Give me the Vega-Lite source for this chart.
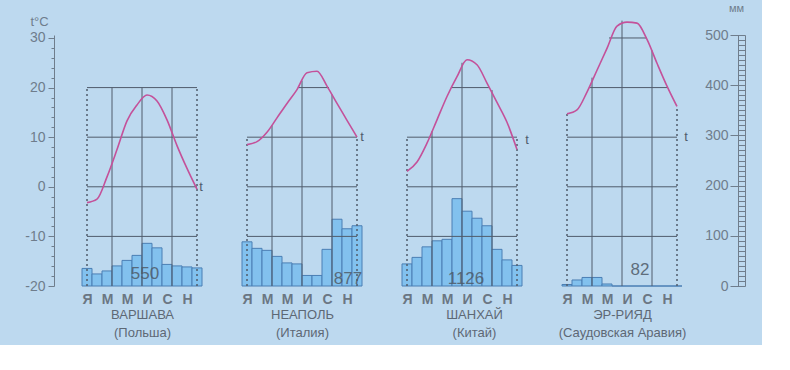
{
  "$schema": "https://vega.github.io/schema/vega-lite/v6.json",
  "background": "#bdd9ef",
  "padding": {"left": 24, "top": 2, "right": 16, "bottom": 6},
  "config": {
    "view": {"stroke": null},
    "font": "Liberation Sans",
    "axis": {"grid": false, "labelFlush": false, "labelOverlap": false}
  },
  "datasets": {
    "climate": [
      {"city": "Варшава", "m": 1, "t": -3.2, "p": 35},
      {"city": "Варшава", "m": 2, "t": -2.5, "p": 24},
      {"city": "Варшава", "m": 3, "t": 2, "p": 30},
      {"city": "Варшава", "m": 4, "t": 7.5, "p": 40},
      {"city": "Варшава", "m": 5, "t": 13.3, "p": 51},
      {"city": "Варшава", "m": 6, "t": 16.5, "p": 61},
      {"city": "Варшава", "m": 7, "t": 18.5, "p": 85},
      {"city": "Варшава", "m": 8, "t": 17.3, "p": 76},
      {"city": "Варшава", "m": 9, "t": 13.5, "p": 43},
      {"city": "Варшава", "m": 10, "t": 8.3, "p": 40},
      {"city": "Варшава", "m": 11, "t": 3.7, "p": 38},
      {"city": "Варшава", "m": 12, "t": -0.5, "p": 36},
      {"city": "Неаполь", "m": 1, "t": 8.5, "p": 88},
      {"city": "Неаполь", "m": 2, "t": 9.1, "p": 75},
      {"city": "Неаполь", "m": 3, "t": 11, "p": 71},
      {"city": "Неаполь", "m": 4, "t": 13.9, "p": 59},
      {"city": "Неаполь", "m": 5, "t": 16.8, "p": 46},
      {"city": "Неаполь", "m": 6, "t": 19.6, "p": 44},
      {"city": "Неаполь", "m": 7, "t": 23, "p": 21},
      {"city": "Неаполь", "m": 8, "t": 23.3, "p": 21},
      {"city": "Неаполь", "m": 9, "t": 20.3, "p": 73},
      {"city": "Неаполь", "m": 10, "t": 16.8, "p": 133},
      {"city": "Неаполь", "m": 11, "t": 13.4, "p": 114},
      {"city": "Неаполь", "m": 12, "t": 10, "p": 120},
      {"city": "Шанхай", "m": 1, "t": 3.1, "p": 44},
      {"city": "Шанхай", "m": 2, "t": 5, "p": 57},
      {"city": "Шанхай", "m": 3, "t": 8.8, "p": 78},
      {"city": "Шанхай", "m": 4, "t": 13.5, "p": 90},
      {"city": "Шанхай", "m": 5, "t": 18.2, "p": 93},
      {"city": "Шанхай", "m": 6, "t": 22.2, "p": 174},
      {"city": "Шанхай", "m": 7, "t": 25.6, "p": 149},
      {"city": "Шанхай", "m": 8, "t": 24.6, "p": 135},
      {"city": "Шанхай", "m": 9, "t": 20.9, "p": 120},
      {"city": "Шанхай", "m": 10, "t": 17, "p": 73},
      {"city": "Шанхай", "m": 11, "t": 13, "p": 52},
      {"city": "Шанхай", "m": 12, "t": 7.5, "p": 41},
      {"city": "Эр-Рияд", "m": 1, "t": 14.7, "p": 3},
      {"city": "Эр-Рияд", "m": 2, "t": 15.5, "p": 12},
      {"city": "Эр-Рияд", "m": 3, "t": 19.1, "p": 17},
      {"city": "Эр-Рияд", "m": 4, "t": 23.5, "p": 17},
      {"city": "Эр-Рияд", "m": 5, "t": 27.9, "p": 4},
      {"city": "Эр-Рияд", "m": 6, "t": 32.4, "p": 0},
      {"city": "Эр-Рияд", "m": 7, "t": 33.2, "p": 0},
      {"city": "Эр-Рияд", "m": 8, "t": 33, "p": 0},
      {"city": "Эр-Рияд", "m": 9, "t": 29.7, "p": 0},
      {"city": "Эр-Рияд", "m": 10, "t": 24.9, "p": 0},
      {"city": "Эр-Рияд", "m": 11, "t": 20.3, "p": 0},
      {"city": "Эр-Рияд", "m": 12, "t": 16.2, "p": 0}
    ],
    "hgrid": [
      {"city": "Варшава", "t": 20, "m1": 1, "m2": 12},
      {"city": "Варшава", "t": 10, "m1": 1, "m2": 12},
      {"city": "Варшава", "t": 0, "m1": 1, "m2": 12},
      {"city": "Варшава", "t": -10, "m1": 1, "m2": 12},
      {"city": "Неаполь", "t": 20, "m1": 6.1, "m2": 9.2},
      {"city": "Неаполь", "t": 10, "m1": 1, "m2": 12},
      {"city": "Неаполь", "t": 0, "m1": 1, "m2": 12},
      {"city": "Неаполь", "t": -10, "m1": 1, "m2": 12},
      {"city": "Шанхай", "t": 20, "m1": 5.4, "m2": 9.3},
      {"city": "Шанхай", "t": 10, "m1": 1, "m2": 12},
      {"city": "Шанхай", "t": 0, "m1": 1, "m2": 12},
      {"city": "Шанхай", "t": -10, "m1": 1, "m2": 12},
      {"city": "Эр-Рияд", "t": 30, "m1": 5.2, "m2": 9.0},
      {"city": "Эр-Рияд", "t": 20, "m1": 3.2, "m2": 11.0},
      {"city": "Эр-Рияд", "t": 10, "m1": 1, "m2": 12},
      {"city": "Эр-Рияд", "t": 0, "m1": 1, "m2": 12},
      {"city": "Эр-Рияд", "t": -10, "m1": 1, "m2": 12}
    ],
    "vgrid": [
      {"city": "Варшава", "m": 3.5, "t1": -20, "t2": 20},
      {"city": "Варшава", "m": 6.5, "t1": -20, "t2": 20},
      {"city": "Варшава", "m": 9.5, "t1": -20, "t2": 20},
      {"city": "Неаполь", "m": 3.5, "t1": -20, "t2": 12.4},
      {"city": "Неаполь", "m": 6.5, "t1": -20, "t2": 21.4},
      {"city": "Неаполь", "m": 9.5, "t1": -20, "t2": 18.6},
      {"city": "Шанхай", "m": 3.5, "t1": -20, "t2": 11.2},
      {"city": "Шанхай", "m": 6.5, "t1": -20, "t2": 25},
      {"city": "Шанхай", "m": 9.5, "t1": -20, "t2": 19.5},
      {"city": "Эр-Рияд", "m": 3.5, "t1": -20, "t2": 22},
      {"city": "Эр-Рияд", "m": 6.5, "t1": -20, "t2": 33.5},
      {"city": "Эр-Рияд", "m": 9.5, "t1": -20, "t2": 27.5}
    ],
    "edges": [
      {"city": "Варшава", "m": 1, "t1": -20, "t2": 20},
      {"city": "Варшава", "m": 12, "t1": -20, "t2": 20},
      {"city": "Неаполь", "m": 1, "t1": -20, "t2": 10},
      {"city": "Неаполь", "m": 12, "t1": -20, "t2": 10},
      {"city": "Шанхай", "m": 1, "t1": -20, "t2": 10},
      {"city": "Шанхай", "m": 12, "t1": -20, "t2": 10},
      {"city": "Эр-Рияд", "m": 1, "t1": -20, "t2": 14.7},
      {"city": "Эр-Рияд", "m": 12, "t1": -20, "t2": 16.2}
    ],
    "notes": [
      {"city": "Варшава", "kind": "t", "m": 12.4, "t": 0, "label": "t"},
      {"city": "Неаполь", "kind": "t", "m": 12.5, "t": 10, "label": "t"},
      {"city": "Шанхай", "kind": "t", "m": 13.0, "t": 9.5, "label": "t"},
      {"city": "Эр-Рияд", "kind": "t", "m": 12.9, "t": 10, "label": "t"},
      {"city": "Варшава", "kind": "total", "m": 6.8, "t": -17.5, "label": "550"},
      {"city": "Неаполь", "kind": "total", "m": 11.1, "t": -18.6, "label": "877"},
      {"city": "Шанхай", "kind": "total", "m": 6.9, "t": -18.5, "label": "1126"},
      {"city": "Эр-Рияд", "kind": "total", "m": 8.3, "t": -16.8, "label": "82"}
    ]
  },
  "bounds": "flush",
  "spacing": 40,
  "hconcat": [
    {
      "width": 120, "height": 251,
      "resolve": {"scale": {"y": "independent"}},
      "layer": [
        {
          "data": {"name": "climate"},
          "transform": [{"filter": "datum.city === 'Варшава'"}],
          "mark": {"type": "bar", "width": 10, "fill": "#82c1ee", "stroke": "#4b7fb4", "strokeWidth": 1},
          "encoding": {
            "x": {"field": "m", "type": "quantitative", "scale": {"domain": [0.5, 12.5], "nice": false, "zero": false, "padding": 0},
              "axis": {"orient": "bottom", "values": [1,3,5,7,9,11], "tickCount": 12, "labelExpr": "['','Я','','М','','М','','И','','С','','Н'][datum.value]", "labelOverlap": false,
                "domain": false, "ticks": false, "labelPadding": 6, "labelFontSize": 14, "labelFontWeight": "bold", "labelColor": "#6b7683",
                "title": ["ВАРШАВА", "(Польша)"], "titleFontSize": 13, "titleFontWeight": "normal", "titleColor": "#5d6875", "titlePadding": 2, "titleLineHeight": 18}},
            "y": {"field": "p", "type": "quantitative", "scale": {"domain": [0, 500], "nice": false, "zero": true}, "axis": null}
          }
        },
        {
          "data": {"name": "hgrid"},
          "transform": [{"filter": "datum.city === 'Варшава'"}],
          "mark": {"type": "rule", "stroke": "#505c6c", "strokeWidth": 1},
          "encoding": {
            "x": {"field": "m1", "type": "quantitative"},
            "x2": {"field": "m2"},
            "y": {"field": "t", "type": "quantitative", "scale": {"domain": [-20, 30.6], "nice": false, "zero": false},
              "axis": {"orient": "left", "offset": 28, "values": [-20,-18,-16,-14,-12,-10,-8,-6,-4,-2,0,2,4,6,8,10,12,14,16,18,20,22,24,26,28,30], "tickCount": 30,
                "labelExpr": "datum.value % 10 === 0 ? '' + datum.value : ''",
                "tickSize": {"condition": {"test": "datum.value % 10 === 0", "value": 6}, "value": 3},
                "domainColor": "#6f7d8c", "tickColor": "#6f7d8c", "labelColor": "#6f7d8c", "labelFontSize": 14, "labelPadding": 3,
                "title": "t°C", "titleAngle": 0, "titleX": -15, "titleY": -14, "titleAlign": "center", "titleBaseline": "middle",
                "titleFontSize": 13, "titleFontWeight": "normal", "titleColor": "#6f7d8c"}}
          }
        },
        {
          "data": {"name": "vgrid"},
          "transform": [{"filter": "datum.city === 'Варшава'"}],
          "mark": {"type": "rule", "stroke": "#505c6c", "strokeWidth": 1},
          "encoding": {
            "x": {"field": "m", "type": "quantitative"},
            "y": {"field": "t1", "type": "quantitative", "scale": {"domain": [-20, 30.6], "nice": false, "zero": false}, "axis": null},
            "y2": {"field": "t2"}
          }
        },
        {
          "data": {"name": "edges"},
          "transform": [{"filter": "datum.city === 'Варшава'"}],
          "mark": {"type": "rule", "stroke": "#505c6c", "strokeWidth": 1.5, "strokeDash": [2, 3]},
          "encoding": {
            "x": {"field": "m", "type": "quantitative"},
            "y": {"field": "t1", "type": "quantitative", "scale": {"domain": [-20, 30.6], "nice": false, "zero": false}, "axis": null},
            "y2": {"field": "t2"}
          }
        },
        {
          "data": {"name": "climate"},
          "transform": [{"filter": "datum.city === 'Варшава'"}],
          "mark": {"type": "line", "interpolate": "monotone", "stroke": "#c4519a", "strokeWidth": 1.6},
          "encoding": {
            "x": {"field": "m", "type": "quantitative"},
            "y": {"field": "t", "type": "quantitative", "scale": {"domain": [-20, 30.6], "nice": false, "zero": false}, "axis": null}
          }
        },
        {
          "data": {"name": "notes"},
          "transform": [{"filter": "datum.city === 'Варшава' && datum.kind === 't'"}],
          "mark": {"type": "text", "fontSize": 13, "color": "#505c6c"},
          "encoding": {
            "x": {"field": "m", "type": "quantitative"},
            "y": {"field": "t", "type": "quantitative", "scale": {"domain": [-20, 30.6], "nice": false, "zero": false}, "axis": null},
            "text": {"field": "label"}
          }
        },
        {
          "data": {"name": "notes"},
          "transform": [{"filter": "datum.city === 'Варшава' && datum.kind === 'total'"}],
          "mark": {"type": "text", "fontSize": 17, "color": "#4f5b69", "opacity": 0.85},
          "encoding": {
            "x": {"field": "m", "type": "quantitative"},
            "y": {"field": "t", "type": "quantitative", "scale": {"domain": [-20, 30.6], "nice": false, "zero": false}, "axis": null},
            "text": {"field": "label"}
          }
        }
      ]
    },
    {
      "width": 120, "height": 251,
      "resolve": {"scale": {"y": "independent"}},
      "layer": [
        {
          "data": {"name": "climate"},
          "transform": [{"filter": "datum.city === 'Неаполь'"}],
          "mark": {"type": "bar", "width": 10, "fill": "#82c1ee", "stroke": "#4b7fb4", "strokeWidth": 1},
          "encoding": {
            "x": {"field": "m", "type": "quantitative", "scale": {"domain": [0.5, 12.5], "nice": false, "zero": false, "padding": 0},
              "axis": {"orient": "bottom", "values": [1,3,5,7,9,11], "tickCount": 12, "labelExpr": "['','Я','','М','','М','','И','','С','','Н'][datum.value]", "labelOverlap": false,
                "domain": false, "ticks": false, "labelPadding": 6, "labelFontSize": 14, "labelFontWeight": "bold", "labelColor": "#6b7683",
                "title": ["НЕАПОЛЬ", "(Италия)"], "titleFontSize": 13, "titleFontWeight": "normal", "titleColor": "#5d6875", "titlePadding": 2, "titleLineHeight": 18}},
            "y": {"field": "p", "type": "quantitative", "scale": {"domain": [0, 500], "nice": false, "zero": true}, "axis": null}
          }
        },
        {
          "data": {"name": "hgrid"},
          "transform": [{"filter": "datum.city === 'Неаполь'"}],
          "mark": {"type": "rule", "stroke": "#505c6c", "strokeWidth": 1},
          "encoding": {
            "x": {"field": "m1", "type": "quantitative"},
            "x2": {"field": "m2"},
            "y": {"field": "t", "type": "quantitative", "scale": {"domain": [-20, 30.6], "nice": false, "zero": false}, "axis": null}
          }
        },
        {
          "data": {"name": "vgrid"},
          "transform": [{"filter": "datum.city === 'Неаполь'"}],
          "mark": {"type": "rule", "stroke": "#505c6c", "strokeWidth": 1},
          "encoding": {
            "x": {"field": "m", "type": "quantitative"},
            "y": {"field": "t1", "type": "quantitative", "scale": {"domain": [-20, 30.6], "nice": false, "zero": false}, "axis": null},
            "y2": {"field": "t2"}
          }
        },
        {
          "data": {"name": "edges"},
          "transform": [{"filter": "datum.city === 'Неаполь'"}],
          "mark": {"type": "rule", "stroke": "#505c6c", "strokeWidth": 1.5, "strokeDash": [2, 3]},
          "encoding": {
            "x": {"field": "m", "type": "quantitative"},
            "y": {"field": "t1", "type": "quantitative", "scale": {"domain": [-20, 30.6], "nice": false, "zero": false}, "axis": null},
            "y2": {"field": "t2"}
          }
        },
        {
          "data": {"name": "climate"},
          "transform": [{"filter": "datum.city === 'Неаполь'"}],
          "mark": {"type": "line", "interpolate": "monotone", "stroke": "#c4519a", "strokeWidth": 1.6},
          "encoding": {
            "x": {"field": "m", "type": "quantitative"},
            "y": {"field": "t", "type": "quantitative", "scale": {"domain": [-20, 30.6], "nice": false, "zero": false}, "axis": null}
          }
        },
        {
          "data": {"name": "notes"},
          "transform": [{"filter": "datum.city === 'Неаполь' && datum.kind === 't'"}],
          "mark": {"type": "text", "fontSize": 13, "color": "#505c6c"},
          "encoding": {
            "x": {"field": "m", "type": "quantitative"},
            "y": {"field": "t", "type": "quantitative", "scale": {"domain": [-20, 30.6], "nice": false, "zero": false}, "axis": null},
            "text": {"field": "label"}
          }
        },
        {
          "data": {"name": "notes"},
          "transform": [{"filter": "datum.city === 'Неаполь' && datum.kind === 'total'"}],
          "mark": {"type": "text", "fontSize": 17, "color": "#4f5b69", "opacity": 0.85},
          "encoding": {
            "x": {"field": "m", "type": "quantitative"},
            "y": {"field": "t", "type": "quantitative", "scale": {"domain": [-20, 30.6], "nice": false, "zero": false}, "axis": null},
            "text": {"field": "label"}
          }
        }
      ]
    },
    {
      "width": 120, "height": 251,
      "resolve": {"scale": {"y": "independent"}},
      "layer": [
        {
          "data": {"name": "climate"},
          "transform": [{"filter": "datum.city === 'Шанхай'"}],
          "mark": {"type": "bar", "width": 10, "fill": "#82c1ee", "stroke": "#4b7fb4", "strokeWidth": 1},
          "encoding": {
            "x": {"field": "m", "type": "quantitative", "scale": {"domain": [0.5, 12.5], "nice": false, "zero": false, "padding": 0},
              "axis": {"orient": "bottom", "values": [1,3,5,7,9,11], "tickCount": 12, "labelExpr": "['','Я','','М','','М','','И','','С','','Н'][datum.value]", "labelOverlap": false,
                "domain": false, "ticks": false, "labelPadding": 6, "labelFontSize": 14, "labelFontWeight": "bold", "labelColor": "#6b7683",
                "title": ["ШАНХАЙ", "(Китай)"], "titleX": 72, "titleFontSize": 13, "titleFontWeight": "normal", "titleColor": "#5d6875", "titlePadding": 2, "titleLineHeight": 18}},
            "y": {"field": "p", "type": "quantitative", "scale": {"domain": [0, 500], "nice": false, "zero": true}, "axis": null}
          }
        },
        {
          "data": {"name": "hgrid"},
          "transform": [{"filter": "datum.city === 'Шанхай'"}],
          "mark": {"type": "rule", "stroke": "#505c6c", "strokeWidth": 1},
          "encoding": {
            "x": {"field": "m1", "type": "quantitative"},
            "x2": {"field": "m2"},
            "y": {"field": "t", "type": "quantitative", "scale": {"domain": [-20, 30.6], "nice": false, "zero": false}, "axis": null}
          }
        },
        {
          "data": {"name": "vgrid"},
          "transform": [{"filter": "datum.city === 'Шанхай'"}],
          "mark": {"type": "rule", "stroke": "#505c6c", "strokeWidth": 1},
          "encoding": {
            "x": {"field": "m", "type": "quantitative"},
            "y": {"field": "t1", "type": "quantitative", "scale": {"domain": [-20, 30.6], "nice": false, "zero": false}, "axis": null},
            "y2": {"field": "t2"}
          }
        },
        {
          "data": {"name": "edges"},
          "transform": [{"filter": "datum.city === 'Шанхай'"}],
          "mark": {"type": "rule", "stroke": "#505c6c", "strokeWidth": 1.5, "strokeDash": [2, 3]},
          "encoding": {
            "x": {"field": "m", "type": "quantitative"},
            "y": {"field": "t1", "type": "quantitative", "scale": {"domain": [-20, 30.6], "nice": false, "zero": false}, "axis": null},
            "y2": {"field": "t2"}
          }
        },
        {
          "data": {"name": "climate"},
          "transform": [{"filter": "datum.city === 'Шанхай'"}],
          "mark": {"type": "line", "interpolate": "monotone", "stroke": "#c4519a", "strokeWidth": 1.6},
          "encoding": {
            "x": {"field": "m", "type": "quantitative"},
            "y": {"field": "t", "type": "quantitative", "scale": {"domain": [-20, 30.6], "nice": false, "zero": false}, "axis": null}
          }
        },
        {
          "data": {"name": "notes"},
          "transform": [{"filter": "datum.city === 'Шанхай' && datum.kind === 't'"}],
          "mark": {"type": "text", "fontSize": 13, "color": "#505c6c"},
          "encoding": {
            "x": {"field": "m", "type": "quantitative"},
            "y": {"field": "t", "type": "quantitative", "scale": {"domain": [-20, 30.6], "nice": false, "zero": false}, "axis": null},
            "text": {"field": "label"}
          }
        },
        {
          "data": {"name": "notes"},
          "transform": [{"filter": "datum.city === 'Шанхай' && datum.kind === 'total'"}],
          "mark": {"type": "text", "fontSize": 17, "color": "#4f5b69", "opacity": 0.85},
          "encoding": {
            "x": {"field": "m", "type": "quantitative"},
            "y": {"field": "t", "type": "quantitative", "scale": {"domain": [-20, 30.6], "nice": false, "zero": false}, "axis": null},
            "text": {"field": "label"}
          }
        }
      ]
    },
    {
      "width": 120, "height": 251,
      "resolve": {"scale": {"y": "independent"}},
      "layer": [
        {
          "data": {"name": "climate"},
          "transform": [{"filter": "datum.city === 'Эр-Рияд'"}],
          "mark": {"type": "bar", "width": 10, "fill": "#82c1ee", "stroke": "#4b7fb4", "strokeWidth": 1},
          "encoding": {
            "x": {"field": "m", "type": "quantitative", "scale": {"domain": [0.5, 12.5], "nice": false, "zero": false, "padding": 0},
              "axis": {"orient": "bottom", "values": [1,3,5,7,9,11], "tickCount": 12, "labelExpr": "['','Я','','М','','М','','И','','С','','Н'][datum.value]", "labelOverlap": false,
                "domain": false, "ticks": false, "labelPadding": 6, "labelFontSize": 14, "labelFontWeight": "bold", "labelColor": "#6b7683",
                "title": ["ЭР-РИЯД", "(Саудовская Аравия)"], "titleFontSize": 13, "titleFontWeight": "normal", "titleColor": "#5d6875", "titlePadding": 2, "titleLineHeight": 18}},
            "y": {"field": "p", "type": "quantitative", "scale": {"domain": [0, 500], "nice": false, "zero": true},
              "axis": {"orient": "left", "offset": -183, "values": [0,10,20,30,40,50,60,70,80,90,100,110,120,130,140,150,160,170,180,190,200,210,220,230,240,250,260,270,280,290,300,310,320,330,340,350,360,370,380,390,400,410,420,430,440,450,460,470,480,490,500], "tickCount": 60,
                "labelExpr": "datum.value % 100 === 0 ? '' + datum.value : ''",
                "tickSize": {"condition": {"test": "datum.value % 100 === 0", "value": 15}, "value": 7},
                "domainColor": "#6f7d8c", "tickColor": "#6f7d8c", "labelColor": "#6f7d8c", "labelFontSize": 14, "labelPadding": 2,
                "title": "мм", "titleAngle": 0, "titleX": -9, "titleY": -27, "titleAlign": "center", "titleBaseline": "middle",
                "titleFontSize": 11, "titleFontWeight": "normal", "titleColor": "#6f7d8c"}}
          }
        },
        {
          "data": {"name": "hgrid"},
          "transform": [{"filter": "datum.city === 'Эр-Рияд'"}],
          "mark": {"type": "rule", "stroke": "#505c6c", "strokeWidth": 1},
          "encoding": {
            "x": {"field": "m1", "type": "quantitative"},
            "x2": {"field": "m2"},
            "y": {"field": "t", "type": "quantitative", "scale": {"domain": [-20, 30.6], "nice": false, "zero": false},
              "axis": {"orient": "left", "offset": -176, "labels": false, "ticks": false, "domain": true, "domainColor": "#6f7d8c", "title": null}}
          }
        },
        {
          "data": {"name": "vgrid"},
          "transform": [{"filter": "datum.city === 'Эр-Рияд'"}],
          "mark": {"type": "rule", "stroke": "#505c6c", "strokeWidth": 1},
          "encoding": {
            "x": {"field": "m", "type": "quantitative"},
            "y": {"field": "t1", "type": "quantitative", "scale": {"domain": [-20, 30.6], "nice": false, "zero": false}, "axis": null},
            "y2": {"field": "t2"}
          }
        },
        {
          "data": {"name": "edges"},
          "transform": [{"filter": "datum.city === 'Эр-Рияд'"}],
          "mark": {"type": "rule", "stroke": "#505c6c", "strokeWidth": 1.5, "strokeDash": [2, 3]},
          "encoding": {
            "x": {"field": "m", "type": "quantitative"},
            "y": {"field": "t1", "type": "quantitative", "scale": {"domain": [-20, 30.6], "nice": false, "zero": false}, "axis": null},
            "y2": {"field": "t2"}
          }
        },
        {
          "data": {"name": "climate"},
          "transform": [{"filter": "datum.city === 'Эр-Рияд'"}],
          "mark": {"type": "line", "interpolate": "monotone", "stroke": "#c4519a", "strokeWidth": 1.6},
          "encoding": {
            "x": {"field": "m", "type": "quantitative"},
            "y": {"field": "t", "type": "quantitative", "scale": {"domain": [-20, 30.6], "nice": false, "zero": false}, "axis": null}
          }
        },
        {
          "data": {"name": "notes"},
          "transform": [{"filter": "datum.city === 'Эр-Рияд' && datum.kind === 't'"}],
          "mark": {"type": "text", "fontSize": 13, "color": "#505c6c"},
          "encoding": {
            "x": {"field": "m", "type": "quantitative"},
            "y": {"field": "t", "type": "quantitative", "scale": {"domain": [-20, 30.6], "nice": false, "zero": false}, "axis": null},
            "text": {"field": "label"}
          }
        },
        {
          "data": {"name": "notes"},
          "transform": [{"filter": "datum.city === 'Эр-Рияд' && datum.kind === 'total'"}],
          "mark": {"type": "text", "fontSize": 17, "color": "#4f5b69", "opacity": 0.85},
          "encoding": {
            "x": {"field": "m", "type": "quantitative"},
            "y": {"field": "t", "type": "quantitative", "scale": {"domain": [-20, 30.6], "nice": false, "zero": false}, "axis": null},
            "text": {"field": "label"}
          }
        }
      ]
    }
  ]
}
